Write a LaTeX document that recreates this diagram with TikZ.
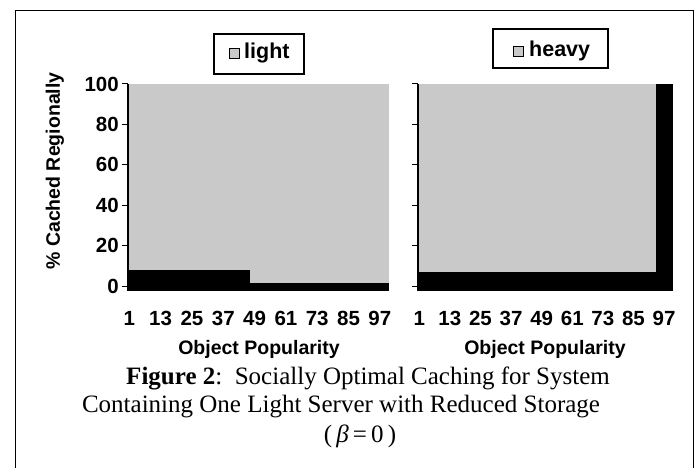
\documentclass[tikz,border=0pt]{standalone}
\usepackage{fontspec}
\setmainfont{Liberation Serif}
\setsansfont{Liberation Sans}
\usetikzlibrary{positioning}
\definecolor{dotgray}{rgb}{0.79,0.79,0.79}

\tikzset{
  lab/.style = {font=\sffamily\bfseries\fontsize{19.5}{23}\selectfont, inner sep=0pt},
  ticklab/.style = {font=\sffamily\bfseries\fontsize{20.5}{24}\selectfont, inner sep=0pt},
  legtext/.style = {font=\sffamily\bfseries\fontsize{21.5}{26}\selectfont, inner sep=0pt, anchor=base west},
  legbox/.style = {draw, line width=1.2pt},
  swatch/.style = {draw, fill=dotgray, line width=1.3pt, minimum size=10pt, inner sep=0pt},
  captext/.style = {font=\fontsize{25}{30}\selectfont, inner sep=0pt, anchor=base}
}

\begin{document}
\begin{tikzpicture}[x=1pt, y=-1pt]
\useasboundingbox (0,0) rectangle (697,468);
% frame
\draw[line width=1pt] (15,468) -- (15,11) -- (693,11) -- (693,468);

% left chart (light)
\fill[dotgray] (128,84) rectangle (389,291);
\fill[black] (128,270) rectangle (250,291);
\fill[black] (250,283) rectangle (389,291);
\draw[line width=1.2pt] (128,84) -- (128,291);
\foreach \v [count=\k from 0] in {0,20,40,60,80,100} {
  \draw[line width=1pt] (122,286-\k*40.4) -- (128,286-\k*40.4);
  \node[ticklab, anchor=east] (ly\v) at (119,286-\k*40.4) {\v};
}
\foreach \i in {1,13,25,37,49,61,73,85,97}
  \node[ticklab, anchor=base] (lx\i) at ({128+(\i-0.5)*2.61},325) {\i};
\node[lab, rotate=90] (ylab) at (55,171) {\% Cached Regionally};
\node[lab, anchor=base] (lxlab) at (259,354) {Object Popularity};
\draw[legbox] (214,34) rectangle (304,74);
\node[legtext] (leglight) at (244,59) {light};
\node[swatch, left=4pt of leglight] (swlight) {};

% right chart (heavy)
\fill[dotgray] (418,84) rectangle (673,291);
\fill[black] (418,272) rectangle (673,291);
\fill[black] (656,84) rectangle (673,291);
\draw[line width=1.2pt] (418,84) -- (418,291);
\foreach \k in {0,...,5}
  \draw[line width=1pt] (412,286-\k*40.4) -- (418,286-\k*40.4);
\foreach \i in {1,13,25,37,49,61,73,85,97}
  \node[ticklab, anchor=base] (rx\i) at ({418+(\i-0.5)*2.55},325) {\i};
\node[lab, anchor=base] (rxlab) at (545,354) {Object Popularity};
\draw[legbox] (493,29) rectangle (608,68);
\node[legtext] (legheavy) at (529,57) {heavy};
\node[swatch, left=5pt of legheavy] (swheavy) {};

% caption
\node[captext] (cap1) at (368,384) {\textbf{Figure 2}:\ \ Socially Optimal Caching for System};
\node[captext] (cap2) at (341,412) {Containing One Light Server with Reduced Storage};
\node[captext] (cap3) at (360,442) {(\,\textit{β}\,=\,0\,)};
\end{tikzpicture}
\end{document}
